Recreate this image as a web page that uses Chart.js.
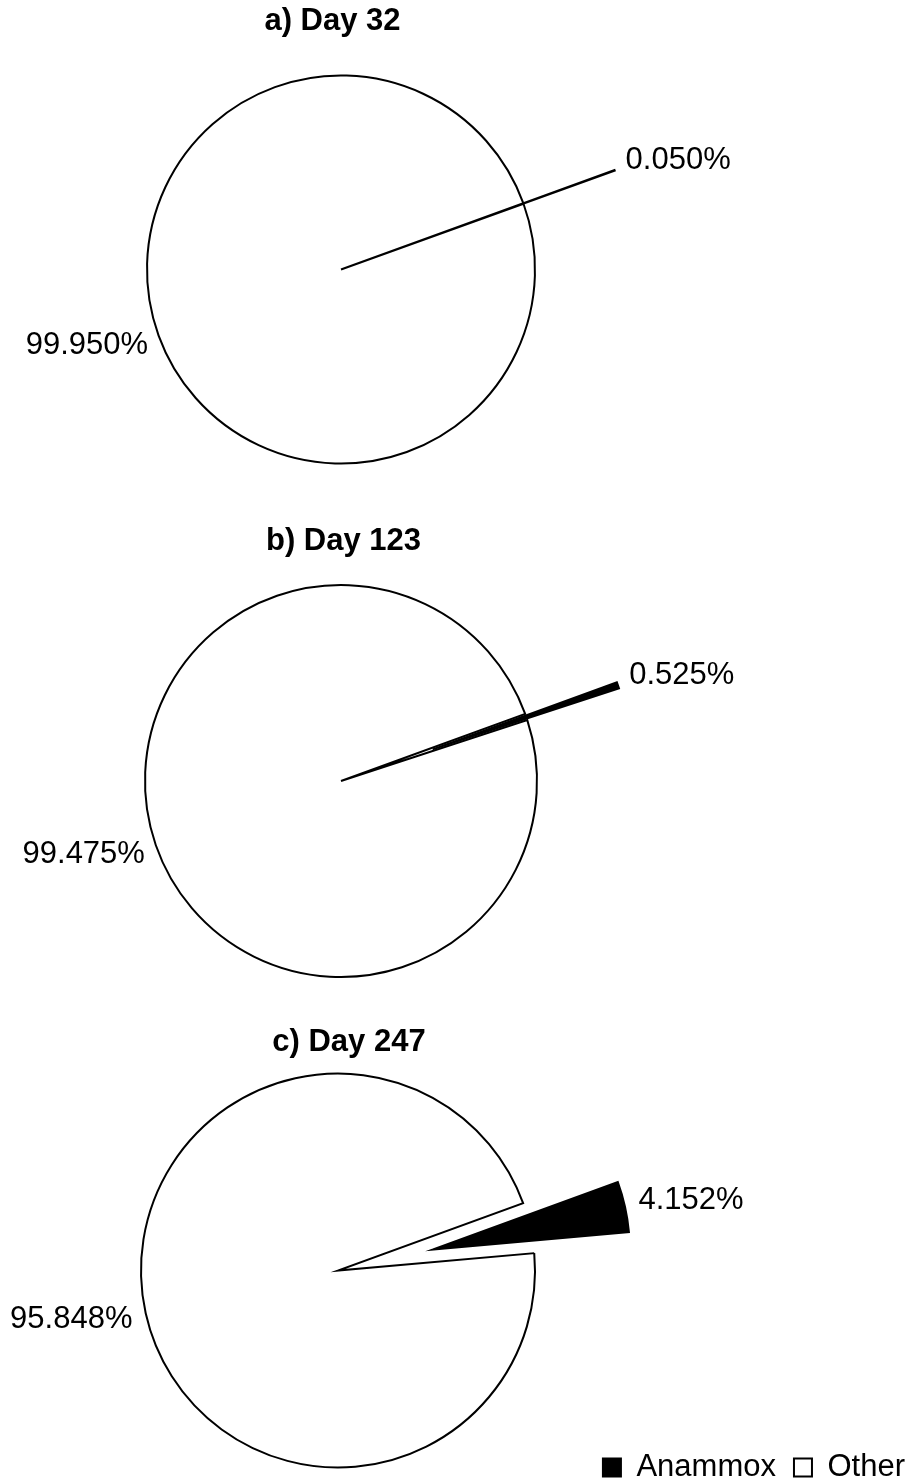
<!DOCTYPE html>
<html>
<head>
<meta charset="utf-8">
<script src="https://cdn.jsdelivr.net/npm/chart.js@4.4.1/dist/chart.umd.min.js"></script>
<style>
  html, body { margin: 0; padding: 0; background: #fff; width: 919px; height: 1484px; overflow: hidden; }
  body { position: relative; }
  canvas { position: absolute; }
</style>
</head>
<body>
<canvas id="pieA"></canvas>
<canvas id="pieB"></canvas>
<canvas id="pieC"></canvas>
<script>
// Community share of each sample (%)
const categories = ['Anammox', 'Other'];
const panelTitles = ['a) Day 32', 'b) Day 123', 'c) Day 247'];
const anammoxPct = [0.050, 0.525, 4.152];
const otherPct = [99.950, 99.475, 95.848];
const sliceColors = ['#000000', '#ffffff'];

const FONT = "'Liberation Sans', Arial, Helvetica, sans-serif";
Chart.defaults.font.family = FONT;
Chart.defaults.color = '#000';

// Page placement of each panel
const panels = [
  { id: 'pieA', left: -237, top: 0,    width: 1156, height: 539, radius: 194, padTop: 0,  legend: false, titleX: 332.5, titleY: 21.5 },
  { id: 'pieB', left: -237, top: 520,  width: 1156, height: 522, radius: 196, padTop: 0,  legend: false, titleX: 343.5, titleY: 541.5 },
  { id: 'pieC', left: -247, top: 1020, width: 1170, height: 473, radius: 197, padTop: 87, legend: true,  titleX: 349,   titleY: 1042.5 }
];

// Pulls slices out along their bisector (whole slice moves, radius unchanged)
const explodePlugin = {
  id: 'explode',
  afterDatasetUpdate(chart, args, opts) {
    const dist = opts.distance || [];
    args.meta.data.forEach((arc, i) => {
      const d = dist[i] || 0;
      if (!d) return;
      const mid = (arc.startAngle + arc.endAngle) / 2;
      arc.x += Math.cos(mid) * d;
      arc.y += Math.sin(mid) * d;
    });
  }
};

// Percentage labels just outside each slice
const sliceLabelPlugin = {
  id: 'sliceLabels',
  afterDatasetsDraw(chart, args, opts) {
    const ctx = chart.ctx;
    const meta = chart.getDatasetMeta(0);
    const values = chart.data.datasets[0].data;
    ctx.save();
    ctx.font = opts.size + 'px ' + FONT;
    ctx.fillStyle = '#000';
    ctx.textAlign = 'center';
    ctx.textBaseline = 'middle';
    meta.data.forEach((arc, i) => {
      const text = values[i].toFixed(3) + '%';
      const mid = (arc.startAngle + arc.endAngle) / 2;
      const c = Math.cos(mid), s = Math.sin(mid);
      const r = arc.outerRadius + opts.gap;
      const w = ctx.measureText(text).width;
      ctx.fillText(text, arc.x + c * r + c * w / 2, arc.y + s * r + s * opts.size / 2);
    });
    ctx.restore();
  }
};

// Bold panel heading
const panelTitlePlugin = {
  id: 'panelTitle',
  afterDraw(chart, args, opts) {
    const ctx = chart.ctx;
    ctx.save();
    ctx.font = 'bold ' + opts.size + 'px ' + FONT;
    ctx.fillStyle = '#000';
    ctx.textAlign = 'center';
    ctx.textBaseline = 'middle';
    ctx.fillText(opts.text, opts.x, opts.y);
    ctx.restore();
  }
};

panels.forEach((p, k) => {
  const cv = document.getElementById(p.id);
  cv.width = p.width;
  cv.height = p.height;
  cv.style.left = p.left + 'px';
  cv.style.top = p.top + 'px';

  new Chart(cv, {
    type: 'pie',
    data: {
      labels: categories,
      datasets: [{
        data: [anammoxPct[k], otherPct[k]],
        backgroundColor: sliceColors,
        borderColor: '#000',
        borderWidth: 2,
        borderJoinStyle: 'miter'
      }]
    },
    options: {
      responsive: false,
      animation: false,
      events: [],
      rotation: 70,
      radius: p.radius,
      layout: { padding: { top: p.padTop, right: 0, bottom: 0, left: 0 } },
      plugins: {
        legend: {
          display: p.legend,
          position: 'bottom',
          align: 'end',
          labels: {
            color: '#000',
            font: { size: 31, family: FONT },
            boxWidth: 18,
            boxHeight: 18,
            padding: 18
          }
        },
        tooltip: { enabled: false },
        explode: { distance: [97, 0] },
        sliceLabels: { size: 31, gap: 15 },
        panelTitle: { text: panelTitles[k], size: 31, x: p.titleX - p.left, y: p.titleY - p.top }
      }
    },
    plugins: [explodePlugin, sliceLabelPlugin, panelTitlePlugin]
  });
});
</script>
</body>
</html>
